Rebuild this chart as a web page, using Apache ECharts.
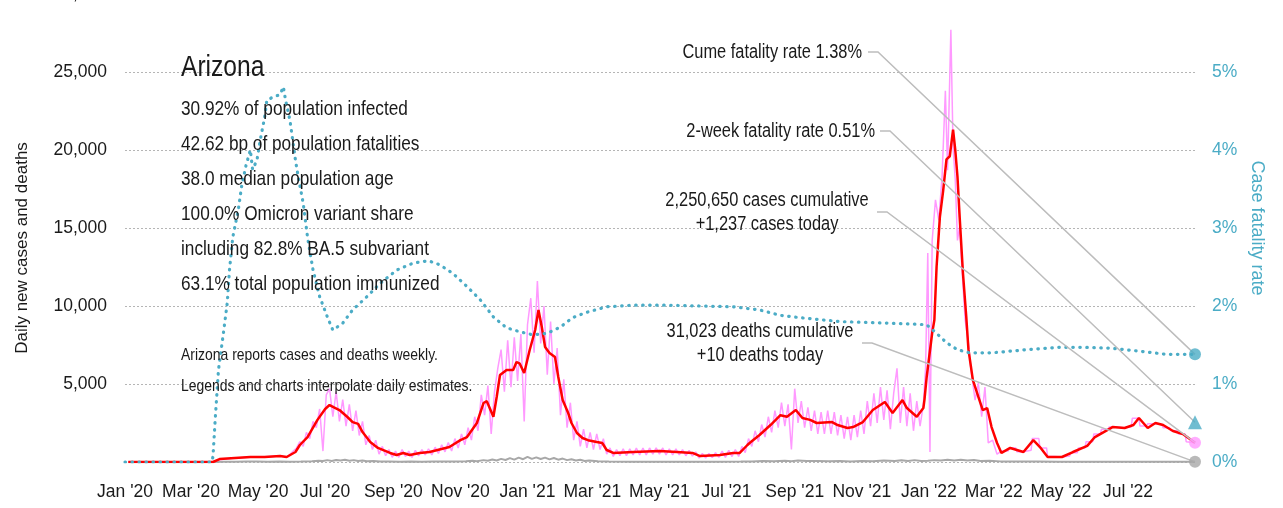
<!DOCTYPE html>
<html><head><meta charset="utf-8">
<script src="https://cdn.jsdelivr.net/npm/echarts@6/dist/echarts.min.js"></script>
<style>html,body{margin:0;padding:0;background:#fff}#c{width:1283px;height:508px}</style>
</head><body><div id="c"></div>
<script>
// ---- data (day = days since DAY0) ----
const DAY0 = '2020-01-01';
const LAST_DAY = 973;
const TICK_DATES = ['2020-01-01','2020-03-01','2020-05-01','2020-07-01','2020-09-01','2020-11-01',
  '2021-01-01','2021-03-01','2021-05-01','2021-07-01','2021-09-01','2021-11-01',
  '2022-01-01','2022-03-01','2022-05-01','2022-07-01'];
const TICK_LABELS = ["Jan '20","Mar '20","May '20","Jul '20","Sep '20","Nov '20",
  "Jan '21","Mar '21","May '21","Jul '21","Sep '21","Nov '21",
  "Jan '22","Mar '22","May '22","Jul '22"];

// daily new cases (pink)
const CASES_DAILY = [[3,0],[80,0],[86,150],[100,250],[114,300],[127,330],[141,380],[147,300],
[150,500],[153,700],[156,900],[159,1300],[162,1000],[165,1900],[168,1500],[171,2600],[174,2200],[177,3400],[180,700],[183,4300],[186,4700],[189,2900],[192,4500],[195,2600],[198,4000],[201,2300],[204,3700],[207,2000],[210,3300],[213,1700],[216,2600],[219,1100],[222,1700],[225,800],[228,1400],[231,500],[234,1000],[237,400],[240,800],[243,300],[246,700],[249,300],[252,800],[255,350],[258,700],[261,300],[264,750],[267,400],[270,800],[273,450],[276,850],[279,450],[282,950],[285,550],[288,1100],[291,650],[294,1250],[297,700],[300,1500],[303,900],[306,1800],[309,1100],[312,2200],[315,1400],[318,2900],[321,2000],[324,4300],[327,3000],[330,4900],[333,1800],[336,4500],[339,6000],[342,7200],[345,4500],[348,7800],[351,4800],[354,8000],[357,5200],[360,8200],[363,2600],[366,8800],[369,10500],[372,7000],[375,11600],[378,7600],[381,10000],[384,5600],[387,9000],[390,5000],[393,7300],[396,3000],[399,5300],[402,2200],[405,3800],[408,1400],[411,2600],[414,1000],[417,2100],[420,900],[423,1900],[426,800],[429,1800],[432,800],[435,1500],[438,500],[441,900],[444,350],[447,800],[450,400],[453,850],[456,400],[459,850],[462,450],[465,900],[468,450],[471,900],[474,450],[477,900],[480,500],[483,900],[486,500],[489,900],[492,450],[495,850],[498,450],[501,850],[504,450],[507,800],[510,400],[513,750],[516,380],[519,650],[522,250],[525,550],[528,250],[531,550],[534,280],[537,600],[540,300],[543,700],[546,300],[549,750],[552,350],[555,800],[558,350],[561,1000],[564,600],[567,1500],[570,1000],[573,2000],[576,1300],[579,2400],[582,1600],[585,2900],[588,1900],[591,3300],[594,2200],[597,3800],[600,2300],[603,3700],[606,800],[609,4700],[612,2500],[615,3900],[618,2200],[621,3500],[624,2000],[627,3300],[630,1800],[633,3200],[636,1800],[639,3300],[642,1800],[645,3200],[648,1700],[651,3000],[654,1500],[657,2900],[660,1400],[663,3000],[666,1600],[669,3300],[672,1800],[675,3900],[678,2300],[681,4400],[684,2500],[687,4800],[690,2700],[693,4600],[696,2100],[699,4400],[702,6000],[705,2500],[708,4800],[711,2300],[714,4400],[717,2000],[720,3900],[723,2300],[726,3700],[728,6000],[730,13400],[732,640],[734,14200],[737,16800],[740,15500],[743,18300],[746,23800],[748,18700],[751,27700],[753,20200],[755,18100],[757,14200],[759,15100],[761,12500],[764,9100],[767,7600],[769,6100],[773,3970],[776,5060],[779,2900],[782,4800],[785,1220],[789,1400],[793,500],
[797,700],[803,700],[804,900],[810,900],[811,650],[817,650],[818,750],[824,750],[825,1500],[831,1500],[832,900],[838,900],[839,350],[845,350],[846,320],[852,320],[853,380],[859,380],[860,600],[866,600],[867,900],[873,900],[874,1300],[880,1300],[881,1800],[887,1800],[888,2100],[894,2100],[895,2250],[901,2250],[902,2200],[908,2200],[909,2250],[915,2250],[916,2800],[922,2800],[923,2300],[929,2300],[930,2450],[936,2450],[937,2400],[943,2400],[944,2200],[950,2200],[951,2000],[957,2000],[958,1800],[964,1800],[965,1300],[973,1237]];

// 7-day average of new cases (red)
const CASES_AVG = [[3,0],[80,0],[86,190],[100,260],[114,320],[127,320],[141,380],[147,320],[155,640],[159,1090],[166,1600],[175,2700],[182,3400],[186,3650],[190,3500],[195,3330],[202,2900],[207,2560],[212,2440],[216,1920],[223,1280],[230,900],[241,580],[247,450],[253,580],[259,450],[268,580],[277,640],[295,960],[305,1400],[311,1600],[320,2500],[326,3780],[329,3900],[335,2900],[338,4170],[341,5580],[347,5900],[353,5900],[356,6410],[359,6300],[363,5700],[368,7180],[373,8460],[376,9750],[379,8650],[382,7370],[386,6990],[391,6730],[394,5450],[398,3970],[403,3140],[406,2500],[411,1860],[416,1540],[421,1400],[429,1280],[434,1220],[438,770],[444,580],[462,640],[486,700],[502,640],[516,580],[523,380],[541,450],[553,580],[559,580],[566,1090],[568,1220],[577,1730],[587,2370],[596,3000],[602,2900],[610,3330],[616,2820],[623,2700],[629,2500],[643,2560],[648,2370],[657,2180],[662,2240],[671,2560],[680,3330],[691,3850],[698,3140],[707,3970],[711,3460],[720,2900],[726,3460],[727,4000],[729,5450],[734,8270],[736,9100],[738,12500],[741,15700],[744,17400],[747,19400],[750,19600],[753,21300],[755,20000],[757,18300],[759,15700],[762,12100],[765,9300],[767,7200],[771,5260],[776,4170],[780,3330],[784,3460],[788,2240],[793,1220],[797,580],[805,900],[817,640],[826,1400],[832,960],[839,320],[852,320],[862,640],[875,1030],[882,1600],[898,2240],[909,2180],[917,2370],[922,2820],[930,2180],[937,2500],[944,2370],[953,1990],[962,1790],[973,1237]];

// daily new deaths (gray)
const DEATHS_DAILY = [[3,0],[75,0],[80,5],[90,15],[100,20],[110,25],[120,30],[130,20],[140,25],[150,20],[160,30],[170,50],[176,80],[180,60],[184,120],[188,70],[192,130],[196,90],[200,140],[204,80],[208,120],[212,60],[216,90],[220,50],[226,60],[232,30],[240,40],[250,20],[260,30],[270,20],[280,30],[290,25],[300,40],[310,50],[316,80],[320,50],[326,120],[330,80],[334,160],[338,100],[342,200],[346,130],[350,250],[354,150],[358,280],[362,180],[366,330],[370,200],[374,300],[378,190],[382,280],[386,170],[390,260],[394,150],[398,220],[402,120],[406,180],[410,100],[414,140],[418,70],[422,100],[430,50],[440,30],[460,20],[480,20],[500,15],[520,15],[540,20],[560,30],[570,40],[580,60],[590,50],[600,80],[606,50],[612,90],[620,60],[630,70],[640,50],[650,60],[660,40],[670,70],[680,50],[690,90],[700,60],[706,110],[712,70],[718,120],[724,60],[730,80],[736,120],[742,90],[748,150],[754,100],[760,140],[766,90],[772,130],[778,70],[786,80],[796,40],[810,30],[830,25],[850,15],[870,10],[900,10],[930,15],[960,12],[973,10]];

// cumulative case fatality rate, percent (teal dotted)
const CFR = [[0,0],[79,0],[80,0.07],[82,0.54],[85,1.18],[89,1.6],[93,2.04],[95,2.46],[98,2.88],[103,3.23],[106,3.53],[110,3.8],[114,4.0],[116,3.75],[120,3.87],[123,4.13],[127,4.42],[129,4.64],[135,4.68],[141,4.71],[144,4.81],[146,4.64],[150,4.38],[155,3.87],[157,3.7],[162,3.32],[166,2.88],[171,2.46],[177,2.12],[184,1.86],[189,1.69],[198,1.78],[207,1.95],[220,2.12],[232,2.29],[247,2.46],[262,2.55],[276,2.58],[286,2.53],[298,2.42],[311,2.25],[323,2.08],[335,1.86],[347,1.72],[359,1.67],[371,1.63],[384,1.65],[396,1.73],[407,1.85],[420,1.92],[438,1.99],[462,2.01],[493,2.01],[523,2.0],[553,1.99],[577,1.95],[596,1.88],[614,1.85],[650,1.8],[696,1.78],[729,1.76],[738,1.65],[747,1.53],[757,1.44],[768,1.4],[789,1.4],[820,1.44],[850,1.47],[871,1.47],[896,1.46],[923,1.42],[947,1.38],[973,1.38]];
const TWO_WEEK_CFR = 0.51;

const STATE = 'Arizona';
const INFO_LINES = ['30.92% of population infected','42.62 bp of population fatalities','38.0 median population age',
  '100.0% Omicron variant share','including 82.8% BA.5 subvariant','63.1% total population immunized'];
const NOTE_LINES = ['Arizona reports cases and deaths weekly.','Legends and charts interpolate daily estimates.'];
const ANN_CUME = 'Cume fatality rate 1.38%';
const ANN_2WK = '2-week fatality rate 0.51%';
const ANN_CASES = '2,250,650 cases cumulative\n+1,237 cases today';
const ANN_DEATHS = '31,023 deaths cumulative\n+10 deaths today';

// ---- chart ----
const FONT = '"Liberation Sans", Arial, sans-serif';
const NARROW = 0.82;
const TEAL = '#4bacc6', PINK = '#ff99ff', RED = '#ff0000', GRAY = '#a8a8a8', INK = '#1a1a1a';
const dayOf = s => { const p = s.split('-').map(Number); const q = DAY0.split('-').map(Number);
  return Math.round((Date.UTC(p[0], p[1]-1, p[2]) - Date.UTC(q[0], q[1]-1, q[2])) / 86400000); };
const tickDays = TICK_DATES.map(dayOf);
const last = a => a[a.length - 1];

const chart = echarts.init(document.getElementById('c'));
const baseText = (text, x, y, size, align) => ({
  type: 'text', x: x, y: y, z: 10, scaleX: NARROW,
  style: { text: text, font: size + 'px ' + FONT, fill: INK, textAlign: align, textVerticalAlign: 'middle',
    align: align, verticalAlign: 'middle', lineHeight: 24 }
});

const option = {
  animation: false,
  grid: { left: 125, right: 88, top: -6, bottom: 46, outerBoundsMode: 'none', containLabel: false },
  xAxis: { type: 'value', min: 0, max: LAST_DAY,
    axisLine: { show: false }, axisTick: { show: false }, splitLine: { show: false },
    axisLabel: { customValues: tickDays, showMinLabel: true, showMaxLabel: true, hideOverlap: false,
      formatter: v => { const i = tickDays.indexOf(v); return i >= 0 ? TICK_LABELS[i] : ''; },
      fontFamily: FONT, fontSize: 17.5, color: INK, margin: 21 } },
  yAxis: [
    { type: 'value', min: 0, max: 30000, interval: 5000,
      axisLine: { show: false }, axisTick: { show: false },
      axisLabel: { formatter: v => v === 0 ? '' : v.toLocaleString('en-US'), fontFamily: FONT, fontSize: 17.5, color: INK, margin: 18 },
      splitLine: { lineStyle: { type: [2, 2], color: '#b5b5b5', width: 1 } } },
    { type: 'value', min: 0, max: 6, interval: 1, position: 'right',
      axisLine: { show: false }, axisTick: { show: false }, splitLine: { show: false },
      axisLabel: { formatter: '{value}%', fontFamily: FONT, fontSize: 17.5, color: TEAL, margin: 17 },
      name: 'Case fatality rate', nameLocation: 'middle', nameRotate: -90, nameGap: 47,
      nameTextStyle: { fontFamily: FONT, fontSize: 18, color: TEAL } }
  ],
  series: [
    { name: 'Deaths', type: 'line', data: DEATHS_DAILY, showSymbol: false, z: 2,
      lineStyle: { color: GRAY, width: 2 } },
    { name: 'Cases', type: 'line', data: CASES_DAILY, showSymbol: false, z: 3,
      lineStyle: { color: PINK, width: 1.5 } },
    { name: 'Cases 7-day', type: 'line', data: CASES_AVG, showSymbol: false, z: 4,
      lineStyle: { color: RED, width: 2.5 } },
    { name: 'CFR', type: 'line', yAxisIndex: 1, data: CFR, showSymbol: false, z: 5,
      lineStyle: { color: TEAL, width: 3.2, type: [0.5, 6.5], cap: 'round' } },
    { type: 'scatter', data: [last(CASES_DAILY)], symbolSize: 12, z: 8, itemStyle: { color: PINK } },
    { type: 'scatter', data: [last(DEATHS_DAILY)], symbolSize: 12, z: 8, itemStyle: { color: GRAY } },
    { type: 'scatter', yAxisIndex: 1, data: [last(CFR)], symbolSize: 12, z: 8, itemStyle: { color: TEAL } },
    { type: 'scatter', yAxisIndex: 1, data: [[LAST_DAY, TWO_WEEK_CFR]], symbol: 'triangle', symbolSize: 14, z: 8, itemStyle: { color: TEAL } }
  ]
};
chart.setOption(option);

const px = (si, pt) => chart.convertToPixel({ seriesIndex: si }, pt);
const pCases = px(4, last(CASES_DAILY));
const pDeaths = px(5, last(DEATHS_DAILY));
const pCfr = px(6, last(CFR));
const pTwo = px(7, [LAST_DAY, TWO_WEEK_CFR]);
const leader = (x0, y0, p) => ({ type: 'polyline', z: 6, silent: true,
  shape: { points: [[x0, y0], [x0 + 10, y0], p] }, style: { stroke: '#bdbdbd', lineWidth: 1.5, fill: null } });

const graphics = [
  baseText(STATE, 181, 68, 30, 'left'),
  ...INFO_LINES.map((t, i) => baseText(t, 181, 109 + 35 * i, 21, 'left')),
  ...NOTE_LINES.map((t, i) => baseText(t, 181, 355 + 31 * i, 17, 'left')),
  baseText(ANN_CUME, 862, 52, 20, 'right'),
  baseText(ANN_2WK, 875, 131, 20, 'right'),
  baseText(ANN_CASES, 767, 212, 20, 'center'),
  baseText(ANN_DEATHS, 760, 343, 20, 'center'),
  { type: 'text', x: 22, y: 248, rotation: Math.PI / 2, z: 10,
    style: { text: 'Daily new cases and deaths', font: '17px ' + FONT, fill: INK,
      textAlign: 'center', textVerticalAlign: 'middle', align: 'center', verticalAlign: 'middle' } },
  leader(868, 52, pCfr),
  leader(880, 131, pTwo),
  leader(877, 212, pCases),
  leader(862, 343, pDeaths)
];
chart.setOption({ graphic: { elements: graphics } });
</script></body></html>
